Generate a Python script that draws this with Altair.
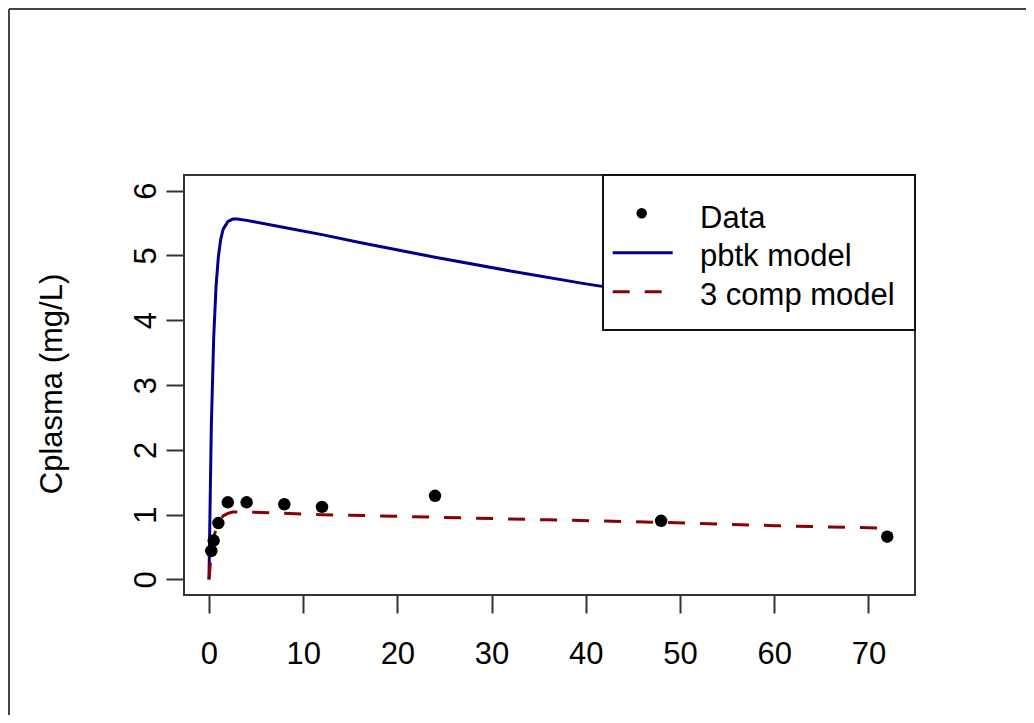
import altair as alt
import pandas as pd

# ---- data ----
obs_time = [0.25, 0.5, 1, 2, 4, 8, 12, 24, 48, 72]
obs_conc = [0.44, 0.60, 0.87, 1.19, 1.19, 1.16, 1.12, 1.29, 0.905, 0.66]

pbtk_time = [0, 0.25, 0.5, 0.75, 1, 1.25, 1.5, 2, 2.5, 3, 4, 8, 12, 16, 24, 32, 40, 48, 56, 64, 72]
pbtk_conc = [0, 2.36, 3.72, 4.52, 4.98, 5.25, 5.40, 5.52, 5.56, 5.56, 5.54, 5.43, 5.32, 5.20, 4.97, 4.76, 4.56, 4.38, 4.19, 4.02, 3.86]

comp_time = [0, 0.25, 0.5, 0.75, 1, 1.5, 2, 2.5, 3, 4, 8, 12, 24, 36, 48, 60, 72]
comp_conc = [0, 0.42, 0.64, 0.78, 0.88, 0.98, 1.02, 1.04, 1.04, 1.04, 1.02, 1.00, 0.96, 0.92, 0.88, 0.83, 0.79]

x_ticks = [0, 10, 20, 30, 40, 50, 60, 70]
y_ticks = [0, 1, 2, 3, 4, 5, 6]
series_names = ["Data", "pbtk model", "3 comp model"]
y_title = "Cplasma (mg/L)"

FONT = "Liberation Sans"
FS = 31
W, H = 731, 420
PAD_L, PAD_T = 176, 167
TOT_W, TOT_H = 1018, 707
BLUE = "#00008B"
RED = "#8B0000"

obs_df = pd.DataFrame({"t": obs_time, "c": obs_conc})
pbtk_df = pd.DataFrame({"t": pbtk_time, "c": pbtk_conc})
comp_df = pd.DataFrame({"t": comp_time, "c": comp_conc})
one = pd.DataFrame({"k": [0]})

x_scale = alt.Scale(domain=[-2.65, 74.95], nice=False, zero=False)
y_scale = alt.Scale(domain=[-0.24, 6.24], nice=False, zero=False)

x_axis = alt.Axis(values=x_ticks, title=None, domain=False, grid=False,
                  tickSize=18, tickWidth=2, tickColor="#333",
                  labelFont=FONT, labelFontSize=FS, labelColor="#000",
                  labelPadding=26, labelFlush=False, labelOverlap=False, format="d")
y_axis = alt.Axis(values=y_ticks, title=y_title, domain=False, grid=False,
                  tickSize=18, tickWidth=2, tickColor="#333",
                  labelFont=FONT, labelFontSize=FS, labelColor="#000",
                  labelAngle=270, labelAlign="center", labelBaseline="bottom",
                  labelPadding=4, labelFlush=False, labelOverlap=False, format="d",
                  titleFont=FONT, titleFontSize=FS, titleFontWeight="normal",
                  titleColor="#000", titleAngle=270, titleAlign="center",
                  titleBaseline="middle", titleX=-132, titleY=208.5)

X = alt.X("t:Q", scale=x_scale, axis=x_axis)
Y = alt.Y("c:Q", scale=y_scale, axis=y_axis)

pbtk_line = alt.Chart(pbtk_df).mark_line(color=BLUE, strokeWidth=3).encode(x=X, y=Y)
comp_line = alt.Chart(comp_df).mark_line(color=RED, strokeWidth=3, strokeDash=[17, 15]).encode(x=X, y=Y)
points = alt.Chart(obs_df).mark_point(filled=True, color="#000", size=155, opacity=1).encode(x=X, y=Y)

# legend (top-right, R style)
leg_box = alt.Chart(one).mark_rect(fill="white", stroke="#111", strokeWidth=2).encode(
    x=alt.value(419), x2=alt.value(W), y=alt.value(0), y2=alt.value(155))
leg_pt = alt.Chart(one).mark_point(filled=True, color="#000", size=110, opacity=1).encode(
    x=alt.value(457.7), y=alt.value(38.3))
leg_blue = alt.Chart(one).mark_rule(color=BLUE, strokeWidth=3).encode(
    x=alt.value(428.7), x2=alt.value(488.7), y=alt.value(77.7))
leg_red = alt.Chart(one).mark_rule(color=RED, strokeWidth=3, strokeDash=[17, 15]).encode(
    x=alt.value(428.7), x2=alt.value(488.7), y=alt.value(116.7))
leg_texts = [
    alt.Chart(one).mark_text(align="left", baseline="alphabetic", font=FONT, fontSize=FS, color="#000").encode(
        x=alt.value(516), y=alt.value(yy), text=alt.value(lbl))
    for lbl, yy in zip(series_names, [53.3, 91.0, 130.0])
]

# outer frame of the figure
frame_top = alt.Chart(one).mark_rule(color="#444", strokeWidth=2).encode(
    x=alt.value(-PAD_L + 1), x2=alt.value(TOT_W - PAD_L), y=alt.value(-PAD_T + 1))
frame_left = alt.Chart(one).mark_rule(color="#444", strokeWidth=2).encode(
    x=alt.value(-PAD_L + 1), y=alt.value(-PAD_T + 1), y2=alt.value(TOT_H - PAD_T))

chart = alt.layer(
    pbtk_line, comp_line, points, leg_box, leg_pt, leg_blue, leg_red, *leg_texts,
    frame_top, frame_left
).properties(
    width=W, height=H,
    autosize=alt.AutoSizeParams(type="none"),
    padding={"left": PAD_L, "top": PAD_T, "right": TOT_W - PAD_L - W, "bottom": TOT_H - PAD_T - H},
    background="white",
).configure_view(stroke="#333", strokeWidth=2)

chart.save("out.html", embed_options={"renderer": "svg", "actions": False})
